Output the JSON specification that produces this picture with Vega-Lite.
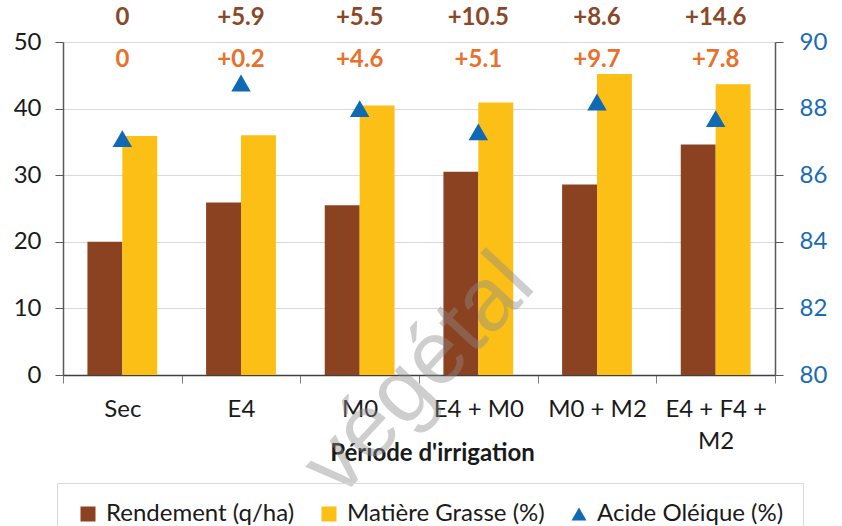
{
  "$schema": "https://vega.github.io/schema/vega-lite/v6.json",
  "width": 712,
  "height": 333,
  "autosize": {"type": "none"},
  "padding": {"left": 63, "top": 42, "right": 67, "bottom": 151},
  "background": "white",
  "config": {"font": "Lato", "view": {"stroke": null}},
  "datasets": {
    "bars": [
      {"cat": "Sec", "serie": "Rendement (q/ha)", "val": 20.0},
      {"cat": "Sec", "serie": "Matière Grasse (%)", "val": 35.9},
      {"cat": "E4", "serie": "Rendement (q/ha)", "val": 25.9},
      {"cat": "E4", "serie": "Matière Grasse (%)", "val": 36.0},
      {"cat": "M0", "serie": "Rendement (q/ha)", "val": 25.5},
      {"cat": "M0", "serie": "Matière Grasse (%)", "val": 40.45},
      {"cat": "E4 + M0", "serie": "Rendement (q/ha)", "val": 30.5},
      {"cat": "E4 + M0", "serie": "Matière Grasse (%)", "val": 40.9},
      {"cat": "M0 + M2", "serie": "Rendement (q/ha)", "val": 28.6},
      {"cat": "M0 + M2", "serie": "Matière Grasse (%)", "val": 45.2},
      {"cat": "E4 + F4 + M2", "serie": "Rendement (q/ha)", "val": 34.6},
      {"cat": "E4 + F4 + M2", "serie": "Matière Grasse (%)", "val": 43.65}
    ],
    "oleic": [
      {"cat": "Sec", "serie": "Acide Oléique (%)", "val": 87.1},
      {"cat": "E4", "serie": "Acide Oléique (%)", "val": 88.77},
      {"cat": "M0", "serie": "Acide Oléique (%)", "val": 88.0},
      {"cat": "E4 + M0", "serie": "Acide Oléique (%)", "val": 87.3},
      {"cat": "M0 + M2", "serie": "Acide Oléique (%)", "val": 88.2},
      {"cat": "E4 + F4 + M2", "serie": "Acide Oléique (%)", "val": 87.7}
    ],
    "labels": [
      {"cat": "Sec", "rend": "0", "mg": "0"},
      {"cat": "E4", "rend": "+5.9", "mg": "+0.2"},
      {"cat": "M0", "rend": "+5.5", "mg": "+4.6"},
      {"cat": "E4 + M0", "rend": "+10.5", "mg": "+5.1"},
      {"cat": "M0 + M2", "rend": "+8.6", "mg": "+9.7"},
      {"cat": "E4 + F4 + M2", "rend": "+14.6", "mg": "+7.8"}
    ],
    "watermark": [
      {"cat": "M0", "txt": "végétal"}
    ]
  },
  "encoding": {
    "x": {
      "field": "cat",
      "type": "nominal",
      "sort": ["Sec", "E4", "M0", "E4 + M0", "M0 + M2", "E4 + F4 + M2"],
      "scale": {"paddingInner": 0, "paddingOuter": 0},
      "axis": {
        "title": "Période d'irrigation",
        "titleFont": "Lato",
        "titleFontSize": 24,
        "titleFontWeight": "bold",
        "titleColor": "#1a1a1a",
        "titleY": 78,
        "titleX": 369,
        "titleBaseline": "middle",
        "labelAngle": 0,
        "labelFont": "Lato",
        "labelFontSize": 24,
        "labelColor": "#1a1a1a",
        "labelPadding": 14,
        "labelLineHeight": 32,
        "labelExpr": "datum.label == 'E4 + F4 + M2' ? ['E4 + F4 +', 'M2'] : datum.label",
        "tickBand": "extent",
        "tickSize": 8,
        "tickColor": "#7f7f7f",
        "domainColor": "#404040",
        "domainWidth": 1.5
      }
    }
  },
  "layer": [
    {
      "data": {"name": "bars"},
      "mark": {"type": "bar"},
      "encoding": {
        "xOffset": {
          "field": "serie",
          "type": "nominal",
          "sort": ["Rendement (q/ha)", "Matière Grasse (%)"],
          "scale": {"paddingInner": 0, "paddingOuter": 0.7}
        },
        "y": {
          "field": "val",
          "type": "quantitative",
          "scale": {"domain": [0, 50], "nice": false},
          "axis": {
            "orient": "left",
            "title": null,
            "values": [0, 10, 20, 30, 40, 50],
            "grid": true,
            "gridColor": "#d9d9d9",
            "gridWidth": 1.2,
            "domainColor": "#595959",
            "domainWidth": 1.5,
            "tickColor": "#595959",
            "tickSize": 8,
            "labelPadding": 14,
            "labelFont": "Lato",
            "labelFontSize": 24,
            "labelColor": "#1a1a1a"
          }
        },
        "color": {
          "field": "serie",
          "type": "nominal",
          "scale": {
            "domain": ["Rendement (q/ha)", "Matière Grasse (%)", "Acide Oléique (%)"],
            "range": ["#8B4220", "#FBBF15", "#0F69B4"]
          },
          "legend": {
            "title": null,
            "orient": "none",
            "legendX": -6,
            "legendY": 441,
            "direction": "horizontal",
            "padding": 19,
            "strokeColor": "#d9d9d9",
            "symbolType": "square",
            "symbolSize": 225,
            "symbolStrokeWidth": 0,
            "labelFont": "Lato",
            "labelFontSize": 24,
            "labelColor": "#1a1a1a",
            "labelOffset": 6,
            "columnPadding": 22,
            "labelLimit": 400,
            "encode": {
              "symbols": {
                "update": {
                  "shape": {"signal": "datum.value === 'Acide Oléique (%)' ? 'triangle-up' : 'square'"},
                  "fill": {"signal": "datum.value === 'Acide Oléique (%)' ? '#0F69B4' : (datum.value === 'Rendement (q/ha)' ? '#8B4220' : '#FBBF15')"},
                  "strokeWidth": {"value": 0}
                }
              }
            }
          }
        }
      }
    },
    {
      "data": {"name": "oleic"},
      "mark": {"type": "point", "shape": "triangle-up", "filled": true, "size": 380, "opacity": 1},
      "encoding": {
        "y": {
          "field": "val",
          "type": "quantitative",
          "scale": {"domain": [80, 90], "nice": false, "zero": false},
          "axis": {
            "orient": "right",
            "title": null,
            "values": [80, 82, 84, 86, 88, 90],
            "grid": false,
            "domainColor": "#595959",
            "domainWidth": 1.5,
            "tickColor": "#595959",
            "tickSize": 8,
            "labelPadding": 16,
            "labelFont": "Lato",
            "labelFontSize": 24,
            "labelColor": "#1a6bb5"
          }
        },
        "color": {"field": "serie", "type": "nominal"}
      }
    },
    {
      "data": {"name": "labels"},
      "mark": {"type": "text", "font": "Lato", "fontSize": 24, "fontWeight": "bold", "color": "#8B4828", "baseline": "middle", "align": "center"},
      "encoding": {
        "y": {"datum": 53.6, "type": "quantitative", "scale": {"domain": [0, 50], "nice": false}, "axis": null},
        "text": {"field": "rend"}
      }
    },
    {
      "data": {"name": "labels"},
      "mark": {"type": "text", "font": "Lato", "fontSize": 24, "fontWeight": "bold", "color": "#E8702A", "baseline": "middle", "align": "center"},
      "encoding": {
        "y": {"datum": 47.26, "type": "quantitative", "scale": {"domain": [0, 50], "nice": false}, "axis": null},
        "text": {"field": "mg"}
      }
    },
    {
      "data": {"name": "watermark"},
      "mark": {"type": "text", "font": "Liberation Sans", "fontSize": 90, "angle": -47, "color": "#8c8c8c", "opacity": 0.42, "baseline": "middle", "align": "center"},
      "encoding": {
        "x": {
          "field": "cat",
          "type": "nominal",
          "bandPosition": 1,
          "sort": ["Sec", "E4", "M0", "E4 + M0", "M0 + M2", "E4 + F4 + M2"],
          "axis": {"title": "Période d'irrigation"}
        },
        "y": {"datum": 0, "type": "quantitative", "scale": {"domain": [0, 50], "nice": false}, "axis": null},
        "text": {"field": "txt"}
      }
    }
  ],
  "resolve": {"scale": {"y": "independent"}}
}
